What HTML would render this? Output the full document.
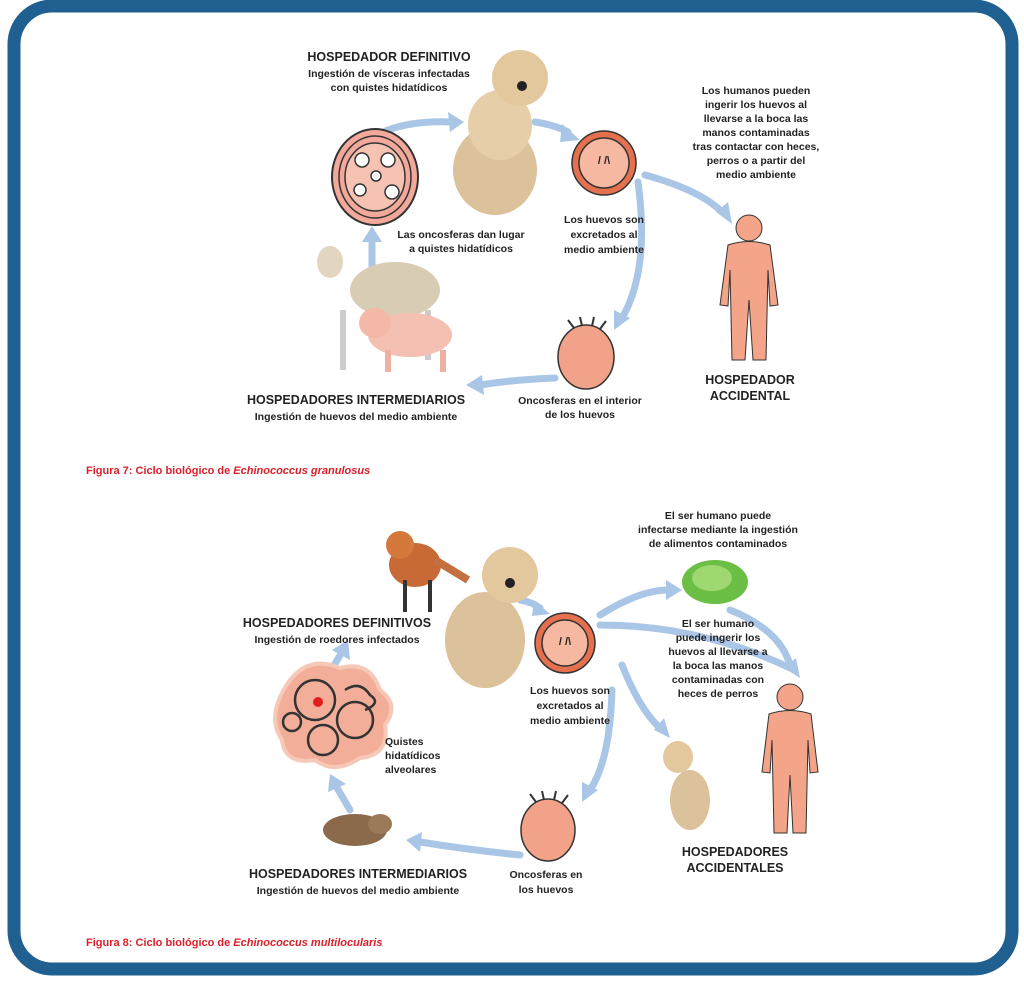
<!DOCTYPE html>
<html><head><meta charset="utf-8"><style>
html,body{margin:0;padding:0;background:#fff}
svg{display:block}
text{font-family:"Liberation Sans",Arial,sans-serif;font-weight:bold;fill:#222}
.t{font-size:12.5px}
.s{font-size:10.5px}
.a{fill:none;stroke:#aac6e6;stroke-width:7;stroke-linecap:round}
.h{fill:#aac6e6}
.cap{font-size:11px;fill:#d8202a}
</style></head><body>
<svg width="1024" height="984" viewBox="0 0 1024 984">
<rect x="14" y="6" width="998" height="963" rx="38" fill="#fff" stroke="#1f6090" stroke-width="13"/>

<!-- ===== TOP ===== -->
<text class="t" x="389" y="61" text-anchor="middle">HOSPEDADOR DEFINITIVO</text>
<text class="s" x="389" y="77" text-anchor="middle">Ingestión de vísceras infectadas</text>
<text class="s" x="389" y="91" text-anchor="middle">con quistes hidatídicos</text>

<path class="a" d="M372 138 Q400 120 452 122"/><polygon class="h" points="464,122 448,112 450,132"/>
<path class="a" d="M535 122 Q555 125 568 132"/><polygon class="h" points="580,140 562,124 560,142"/>
<path class="a" d="M638 182 Q650 270 622 318"/><polygon class="h" points="614,330 614,310 630,318"/>
<path class="a" d="M555 378 Q510 380 480 385"/><polygon class="h" points="466,385 482,375 484,395"/>
<path class="a" d="M372 270 L372 240"/><polygon class="h" points="372,226 362,242 382,242"/>
<path class="a" d="M645 175 Q700 190 722 212"/><polygon class="h" points="732,224 716,212 728,202"/>

<ellipse cx="375" cy="177" rx="43" ry="48" fill="#f2a89a" stroke="#333" stroke-width="2"/>
<ellipse cx="375" cy="177" rx="36" ry="41" fill="none" stroke="#333" stroke-width="1.5"/>
<ellipse cx="375" cy="177" rx="30" ry="34" fill="#f6c3b3" stroke="#333" stroke-width="1.5"/>
<g fill="#fff" stroke="#333" stroke-width="1.5">
<circle cx="362" cy="160" r="7"/><circle cx="388" cy="160" r="7"/><circle cx="360" cy="190" r="6"/><circle cx="392" cy="192" r="7"/><circle cx="376" cy="176" r="5"/></g>

<!-- dog top -->
<ellipse cx="495" cy="170" rx="42" ry="45" fill="#dcc29a"/>
<ellipse cx="500" cy="125" rx="32" ry="35" fill="#e6cfa8"/>
<ellipse cx="520" cy="78" rx="28" ry="28" fill="#e3c89e"/>
<circle cx="522" cy="86" r="5" fill="#222"/>

<circle cx="604" cy="163" r="32" fill="#e4704e" stroke="#333" stroke-width="1.5"/>
<circle cx="604" cy="163" r="25" fill="#f6b8a0" stroke="#333" stroke-width="1.5"/>
<text x="604" y="164" text-anchor="middle" style="font-size:11px">/ /\</text>
<text class="s" x="604" y="223" text-anchor="middle">Los huevos son</text>
<text class="s" x="604" y="238" text-anchor="middle">excretados al</text>
<text class="s" x="604" y="253" text-anchor="middle">medio ambiente</text>

<text class="s" x="461" y="238" text-anchor="middle">Las oncosferas dan lugar</text>
<text class="s" x="461" y="252" text-anchor="middle">a quistes hidatídicos</text>

<text class="s" x="756" y="94" text-anchor="middle">Los humanos pueden</text>
<text class="s" x="756" y="108" text-anchor="middle">ingerir los huevos al</text>
<text class="s" x="756" y="122" text-anchor="middle">llevarse a la boca las</text>
<text class="s" x="756" y="136" text-anchor="middle">manos contaminadas</text>
<text class="s" x="756" y="150" text-anchor="middle">tras contactar con heces,</text>
<text class="s" x="756" y="164" text-anchor="middle">perros o a partir del</text>
<text class="s" x="756" y="178" text-anchor="middle">medio ambiente</text>

<g fill="#f4a488" stroke="#333" stroke-width="1">
<circle cx="749" cy="228" r="13"/>
<path d="M728 245 Q749 238 770 245 L778 305 L770 306 L768 270 L766 360 L753 360 L749 300 L745 360 L732 360 L730 270 L728 306 L720 305 Z"/></g>
<text class="t" x="750" y="384" text-anchor="middle">HOSPEDADOR</text>
<text class="t" x="750" y="400" text-anchor="middle">ACCIDENTAL</text>

<ellipse cx="586" cy="357" rx="28" ry="32" fill="#f2a288" stroke="#333" stroke-width="1.5"/>
<path d="M574 328 l-6 -8 M582 326 l-2 -9 M592 326 l2 -9 M600 329 l6 -8" stroke="#333" stroke-width="2"/>
<text class="s" x="580" y="404" text-anchor="middle">Oncosferas en el interior</text>
<text class="s" x="580" y="418" text-anchor="middle">de los huevos</text>

<!-- sheep & pig -->
<ellipse cx="395" cy="290" rx="45" ry="28" fill="#d8cdb4"/>
<ellipse cx="330" cy="262" rx="13" ry="16" fill="#e2d6c0"/>
<rect x="340" y="310" width="6" height="60" fill="#ccc"/>
<rect x="425" y="310" width="6" height="50" fill="#ccc"/>
<ellipse cx="410" cy="335" rx="42" ry="22" fill="#f3c0b2"/>
<ellipse cx="375" cy="323" rx="16" ry="15" fill="#f3b8a8"/>
<rect x="385" y="350" width="6" height="22" fill="#eeb0a0"/><rect x="440" y="350" width="6" height="22" fill="#eeb0a0"/>

<text class="t" x="356" y="404" text-anchor="middle">HOSPEDADORES INTERMEDIARIOS</text>
<text class="s" x="356" y="420" text-anchor="middle">Ingestión de huevos del medio ambiente</text>

<text class="cap" x="86" y="474">Figura 7: Ciclo biológico de <tspan font-style="italic">Echinococcus granulosus</tspan></text>

<!-- ===== BOTTOM ===== -->
<text class="s" x="718" y="519" text-anchor="middle">El ser humano puede</text>
<text class="s" x="718" y="533" text-anchor="middle">infectarse mediante la ingestión</text>
<text class="s" x="718" y="547" text-anchor="middle">de alimentos contaminados</text>

<path class="a" d="M520 600 Q532 602 540 608"/><polygon class="h" points="550,614 534,600 532,616"/>
<path class="a" d="M600 615 Q640 590 668 590"/><polygon class="h" points="682,590 666,580 666,600"/>
<path class="a" d="M600 625 Q700 625 790 668"/><polygon class="h" points="800,678 784,668 796,658"/>
<path class="a" d="M730 610 Q780 630 790 665"/>
<path class="a" d="M622 665 Q640 710 660 728"/><polygon class="h" points="670,738 654,730 664,718"/>
<path class="a" d="M612 690 Q610 760 590 790"/><polygon class="h" points="582,802 582,782 598,790"/>
<path class="a" d="M520 855 Q470 850 420 842"/><polygon class="h" points="406,840 422,832 420,852"/>
<path class="a" d="M350 810 L336 786"/><polygon class="h" points="330,774 328,792 346,784"/>
<path class="a" d="M330 672 L342 652"/><polygon class="h" points="348,640 332,650 350,660"/>

<ellipse cx="415" cy="565" rx="26" ry="22" fill="#c86a36"/>
<ellipse cx="400" cy="545" rx="14" ry="14" fill="#d5783c"/>
<path d="M435 560 Q460 575 468 580" stroke="#c47040" stroke-width="8" fill="none"/>
<rect x="403" y="580" width="4" height="32" fill="#333"/><rect x="428" y="580" width="4" height="32" fill="#333"/>

<ellipse cx="485" cy="640" rx="40" ry="48" fill="#dcc29a"/>
<ellipse cx="510" cy="575" rx="28" ry="28" fill="#e3c89e"/>
<circle cx="510" cy="583" r="5" fill="#222"/>

<text class="t" x="337" y="627" text-anchor="middle">HOSPEDADORES DEFINITIVOS</text>
<text class="s" x="337" y="643" text-anchor="middle">Ingestión de roedores infectados</text>

<path d="M290 680 Q310 655 340 668 Q370 660 380 690 Q400 705 385 725 Q390 755 360 758 Q335 775 315 760 Q285 765 282 740 Q265 715 290 680Z" fill="#f3ae9a" stroke="#f6c8b8" stroke-width="4"/>
<g fill="none" stroke="#333" stroke-width="2.5">
<circle cx="315" cy="700" r="20"/><circle cx="355" cy="720" r="18"/><circle cx="323" cy="740" r="15"/><circle cx="292" cy="722" r="9"/><path d="M345 690 q15 -10 25 5 q12 8 -5 15"/></g>
<circle cx="318" cy="702" r="5" fill="#e02020"/>
<text class="s" x="385" y="745">Quistes</text>
<text class="s" x="385" y="759">hidatídicos</text>
<text class="s" x="385" y="773">alveolares</text>

<circle cx="565" cy="643" r="30" fill="#e4704e" stroke="#333" stroke-width="1.5"/>
<circle cx="565" cy="643" r="23" fill="#f6b8a0" stroke="#333" stroke-width="1.5"/>
<text x="565" y="645" text-anchor="middle" style="font-size:11px">/ /\</text>
<text class="s" x="570" y="694" text-anchor="middle">Los huevos son</text>
<text class="s" x="570" y="709" text-anchor="middle">excretados al</text>
<text class="s" x="570" y="724" text-anchor="middle">medio ambiente</text>

<ellipse cx="715" cy="582" rx="33" ry="22" fill="#6bbf45"/>
<ellipse cx="712" cy="578" rx="20" ry="13" fill="#9fd870"/>

<text class="s" x="718" y="627" text-anchor="middle">El ser humano</text>
<text class="s" x="718" y="641" text-anchor="middle">puede ingerir los</text>
<text class="s" x="718" y="655" text-anchor="middle">huevos al llevarse a</text>
<text class="s" x="718" y="669" text-anchor="middle">la boca las manos</text>
<text class="s" x="718" y="683" text-anchor="middle">contaminadas con</text>
<text class="s" x="718" y="697" text-anchor="middle">heces de perros</text>

<g fill="#f4a488" stroke="#333" stroke-width="1">
<circle cx="790" cy="697" r="13"/>
<path d="M769 714 Q790 707 811 714 L818 772 L810 773 L808 740 L806 833 L793 833 L790 775 L787 833 L774 833 L772 740 L770 773 L762 772 Z"/></g>

<ellipse cx="690" cy="800" rx="20" ry="30" fill="#dcc29a"/>
<ellipse cx="678" cy="757" rx="15" ry="16" fill="#e3c89e"/>

<text class="t" x="735" y="856" text-anchor="middle">HOSPEDADORES</text>
<text class="t" x="735" y="872" text-anchor="middle">ACCIDENTALES</text>

<ellipse cx="548" cy="830" rx="27" ry="31" fill="#f2a288" stroke="#333" stroke-width="1.5"/>
<path d="M536 802 l-6 -8 M544 800 l-2 -9 M554 800 l2 -9 M562 803 l6 -8" stroke="#333" stroke-width="2"/>
<text class="s" x="546" y="878" text-anchor="middle">Oncosferas en</text>
<text class="s" x="546" y="893" text-anchor="middle">los huevos</text>

<ellipse cx="355" cy="830" rx="32" ry="16" fill="#8a6a4a"/>
<ellipse cx="380" cy="824" rx="12" ry="10" fill="#9a7a58"/>

<text class="t" x="358" y="878" text-anchor="middle">HOSPEDADORES INTERMEDIARIOS</text>
<text class="s" x="358" y="894" text-anchor="middle">Ingestión de huevos del medio ambiente</text>

<text class="cap" x="86" y="946">Figura 8: Ciclo biológico de <tspan font-style="italic">Echinococcus multilocularis</tspan></text>
</svg>
</body></html>
